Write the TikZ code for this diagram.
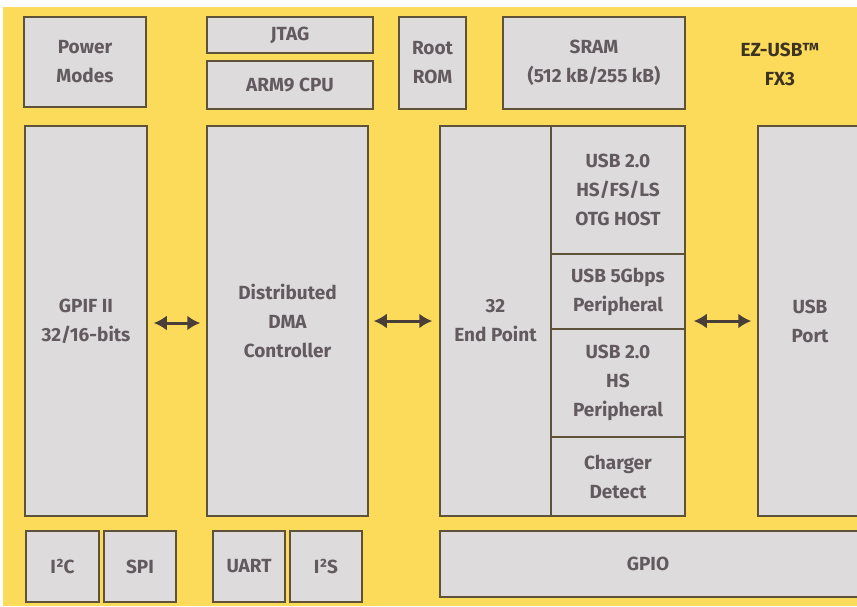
\documentclass[tikz,border=0pt]{standalone}
\usepackage{fontspec}
\setmainfont{Fira Sans}
\usetikzlibrary{arrows.meta}
\definecolor{bgyellow}{HTML}{FCDB5A}
\definecolor{boxfill}{HTML}{DDDBDC}
\definecolor{boxline}{HTML}{5E5338}
\definecolor{txt}{HTML}{635A60}
\definecolor{arrc}{HTML}{4A3F38}
\definecolor{title}{HTML}{3C3322}
\begin{document}
\begin{tikzpicture}[x=1pt,y=-1pt,
  blk/.style={draw=boxline, line width=1.5pt, fill=boxfill, text=txt, align=center,
    font=\fontsize{19}{29}\selectfont\bfseries, inner sep=0pt},
  arr/.style={draw=arrc, line width=3pt, {Latex[length=13pt,width=15pt]}-{Latex[length=13pt,width=15pt]}}]
\useasboundingbox (0,0) rectangle (857,606);
\fill[white] (0,0) rectangle (857,606);
\fill[bgyellow] (3,7) rectangle (857,606);
\begin{scope}
\clip (0,0) rectangle (857,606);
% top row
\node[blk, minimum width=122, minimum height=90] (pm) at (85,62) {Power\\Modes};
\node[blk, minimum width=166, minimum height=36] (jtag) at (290,35) {JTAG};
\node[blk, minimum width=166, minimum height=48] (arm) at (290,85) {ARM9 CPU};
\node[blk, minimum width=67, minimum height=92] (rom) at (432.5,63) {Root\\ROM};
\node[blk, minimum width=182, minimum height=92] (sram) at (594,63) {SRAM\\(512 kB/255 kB)};
\node[text=title, align=center, font=\fontsize{19}{29}\selectfont\bfseries] (ez) at (780,64) {EZ-USB™\\FX3};
% middle row
\node[blk, minimum width=122, minimum height=390] (gpif) at (86,321) {GPIF II\\32/16-bits};
\node[blk, minimum width=161, minimum height=390] (dma) at (287.5,321) {Distributed\\DMA\\Controller};
\node[blk, minimum width=111, minimum height=390] (ep) at (495.5,321) {32\\End Point};
\node[blk, minimum width=134, minimum height=128] (otg) at (618,190) {USB 2.0\\HS/FS/LS\\OTG HOST};
\node[blk, minimum width=134, minimum height=75] (u5g) at (618,291.5) {USB 5Gbps\\Peripheral};
\node[blk, minimum width=134, minimum height=108] (uhs) at (618,383) {USB 2.0\\HS\\Peripheral};
\node[blk, minimum width=134, minimum height=79] (chg) at (618,476.5) {Charger\\Detect};
\node[blk, minimum width=104, minimum height=390] (usb) at (810,321) {USB\\Port};
% bottom row
\node[blk, minimum width=73, minimum height=71] (i2c) at (62.5,566.5) {I²C};
\node[blk, minimum width=72, minimum height=71] (spi) at (140,566.5) {SPI};
\node[blk, minimum width=72, minimum height=71] (uart) at (249,566.5) {UART};
\node[blk, minimum width=72, minimum height=71] (i2s) at (326,566.5) {I²S};
\node[blk, minimum width=424, minimum height=66] (gpio) at (652,564) {\hspace*{-8pt}GPIO};
\end{scope}
% arrows
\draw[arr] ([xshift=6pt,yshift=-2pt]gpif.east) -- ([xshift=-6pt,yshift=-2pt]dma.west);
\draw[arr] ([xshift=5pt]dma.east) -- ([xshift=-7pt]ep.west);
\draw[arr] ([xshift=8pt]u5g.east |- usb.west) -- ([xshift=-6pt]usb.west);
\end{tikzpicture}
\end{document}
